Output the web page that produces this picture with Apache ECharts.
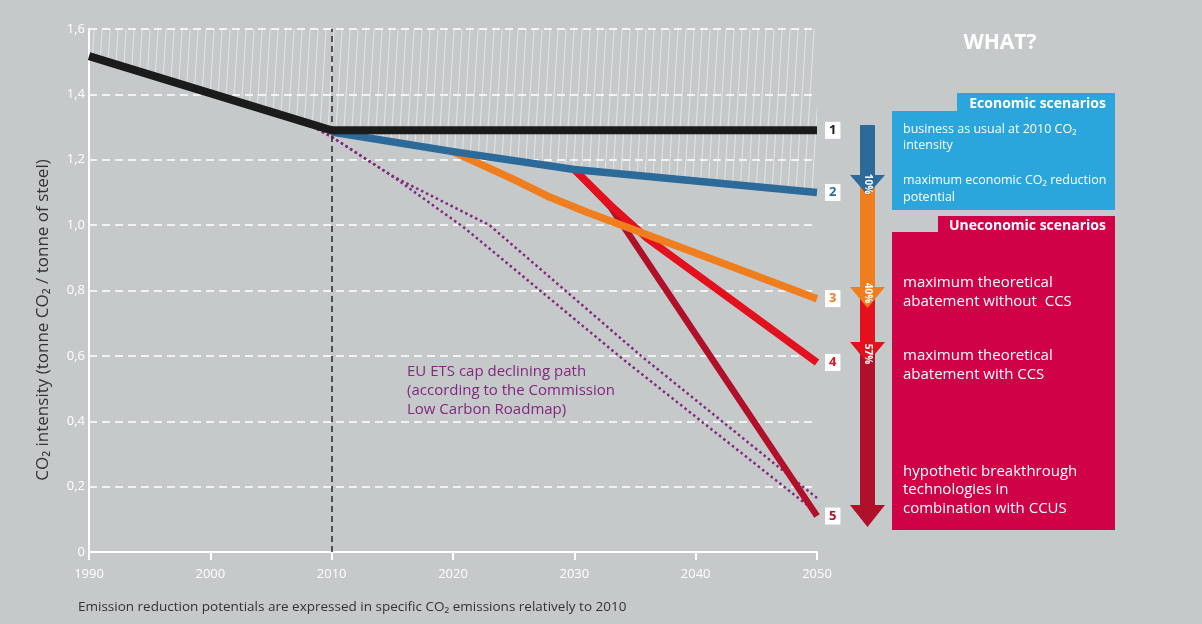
<!DOCTYPE html>
<html><head><meta charset="utf-8">
<script src="https://cdn.jsdelivr.net/npm/echarts@6/dist/echarts.min.js"></script>
<style>html,body{margin:0;padding:0;background:#c6c9ca;}#c{width:1202px;height:624px;}</style>
</head><body><div id="c"></div>
<script>
// ---- data ----
const xTicks = [1990, 2000, 2010, 2020, 2030, 2040, 2050];
const yTickStep = 0.2;
const bauYears = [1990, 2010, 2050];
const bauValues = [1.517, 1.29, 1.29];
const econYears = [2010, 2020, 2030, 2040, 2050];
const econValues = [1.285, 1.225, 1.17, 1.135, 1.10];
const noCcsYears = [2020, 2025, 2028, 2031, 2040, 2050];
const noCcsValues = [1.225, 1.14, 1.085, 1.04, 0.915, 0.775];
const ccsYears = [2030, 2033, 2036, 2043, 2050];
const ccsValues = [1.17, 1.06, 0.96, 0.77, 0.58];
const ccusYears = [2030, 2033, 2050];
const ccusValues = [1.17, 1.055, 0.11];
const etsAYears = [2008, 2010, 2015, 2021, 2034, 2050];
const etsAValues = [1.31, 1.27, 1.15, 0.99, 0.59, 0.12];
const etsBYears = [2008, 2010, 2015, 2023, 2035.5, 2050];
const etsBValues = [1.31, 1.27, 1.15, 1.0, 0.60, 0.165];
const scenarioLabels = ['1', '2', '3', '4', '5'];
const reductionLabels = ['10%', '40%', '57%'];

const zip = (xs, ys) => xs.map((x, i) => [x, ys[i]]);
// hatched area boundary: historic black line up to 2010, then the economic (blue) path
const hatchData = zip(bauYears.slice(0, 1), bauValues.slice(0, 1)).concat(zip(econYears, econValues));

const FONT = "'Open Sans', 'DejaVu Sans', sans-serif";
const C = { black: '#1b1b1b', blue: '#2c6a9a', orange: '#f07d1e', red: '#e3101d', dark: '#b0102a', purple: '#82287f' };

// hatch pattern tile
const tile = document.createElement('canvas');
tile.width = 8; tile.height = 128;
const tc = tile.getContext('2d');
tc.strokeStyle = 'rgba(255,255,255,0.5)';
tc.lineWidth = 1;
[-8, 0, 8].forEach(o => { tc.beginPath(); tc.moveTo(o, 128); tc.lineTo(o + 8, 0); tc.stroke(); });

const chart = echarts.init(document.getElementById('c'), null, { renderer: 'canvas' });

function lineSeries(name, data, color, width, label, z) {
  return {
    name, type: 'line', data, symbol: 'none', z,
    lineStyle: { color, width, join: 'round' },
    endLabel: label ? {
      show: true, formatter: label, distance: 8,
      backgroundColor: '#ffffff', color, fontWeight: 'bold', fontSize: 13,
      fontFamily: FONT, padding: [1, 4, 0, 4], lineHeight: 16
    } : { show: false },
    emphasis: { disabled: true }, silent: true
  };
}

const arrowX = 867.5, shaftHalf = 7.5, headHalf = 17.5;
function shaft(y1, y2, color) {
  return { type: 'rect', shape: { x: arrowX - shaftHalf, y: y1, width: shaftHalf * 2, height: y2 - y1 }, style: { fill: color }, z: 10 };
}
function head(base, tip, color) {
  return { type: 'polygon', shape: { points: [[arrowX - headHalf, base], [arrowX + headHalf, base], [arrowX, tip]] }, style: { fill: color }, z: 11 };
}
function vtext(t, y) {
  return { type: 'text', x: arrowX, y, rotation: -Math.PI / 2, z: 12,
    style: { text: t, fill: '#fff', font: 'bold 10px ' + FONT, textAlign: 'center', textVerticalAlign: 'middle' } };
}
function txt(t, x, y, size, color, weight, align) {
  return { type: 'text', x, y, z: 20,
    style: { text: t, fill: color, font: (weight || 'normal') + ' ' + size + 'px ' + FONT, textAlign: align || 'left', textVerticalAlign: 'middle' } };
}

const option = {
  animation: false,
  backgroundColor: '#c6c9ca',
  grid: { left: 89, right: 385, top: 29, bottom: 72 },
  xAxis: {
    type: 'value', min: xTicks[0], max: xTicks[xTicks.length - 1], interval: 10,
    axisLine: { show: true, lineStyle: { color: '#ffffff', width: 2 } },
    axisTick: { show: true, length: 8, lineStyle: { color: '#ffffff', width: 2 } },
    axisLabel: { color: '#ffffff', fontSize: 13, fontFamily: FONT, margin: 16, formatter: v => String(v) },
    splitLine: { show: false }
  },
  yAxis: {
    type: 'value', min: 0, max: 1.6, interval: yTickStep,
    axisLine: { show: true, lineStyle: { color: '#ffffff', width: 2 } },
    axisTick: { show: false },
    axisLabel: { color: '#ffffff', fontSize: 13, fontFamily: FONT, margin: 4,
      formatter: v => v === 0 ? '0' : v.toFixed(1).replace('.', ',') },
    splitLine: { show: true, lineStyle: { color: '#ffffff', width: 1.5, type: [8, 5] } }
  },
  series: [
    { type: 'line', data: hatchData, symbol: 'none', z: 1, silent: true,
      lineStyle: { width: 0, opacity: 0 },
      areaStyle: { origin: 'end', color: { image: tile, repeat: 'repeat' }, opacity: 1 },
      markLine: { silent: true, symbol: 'none', label: { show: false },
        lineStyle: { color: '#2a2a2a', width: 1.5, type: [6, 4] },
        data: [{ xAxis: 2010 }] } },
    { type: 'line', data: zip(etsAYears, etsAValues), symbol: 'none', z: 2, silent: true,
      lineStyle: { color: C.purple, width: 2.5, type: [2.5, 3] } },
    { type: 'line', data: zip(etsBYears, etsBValues), symbol: 'none', z: 2, silent: true,
      lineStyle: { color: C.purple, width: 2.5, type: [2.5, 3] } },
    lineSeries('ccus', zip(ccusYears, ccusValues), C.dark, 6.5, scenarioLabels[4], 3),
    lineSeries('ccs', zip(ccsYears, ccsValues), C.red, 7.5, scenarioLabels[3], 4),
    lineSeries('noccs', zip(noCcsYears, noCcsValues), C.orange, 7.5, scenarioLabels[2], 5),
    lineSeries('econ', zip(econYears, econValues), C.blue, 7.5, scenarioLabels[1], 6),
    lineSeries('bau', zip(bauYears, bauValues), C.black, 8, scenarioLabels[0], 7)
  ],
  graphic: [
    // y-axis title
    { type: 'text', x: 43, y: 320, rotation: Math.PI / 2, z: 20,
      style: { text: 'CO₂ intensity (tonne CO₂ / tonne of steel)', fill: '#333333', font: '17px ' + FONT, textAlign: 'center', textVerticalAlign: 'middle' } },
    // reduction arrow
    shaft(125, 180, C.blue), shaft(178, 292, C.orange), shaft(290, 347, C.red), shaft(345, 508, C.dark),
    head(505, 527, C.dark), head(342, 363, C.red), head(287, 308, C.orange), head(175, 195, C.blue),
    vtext(reductionLabels[0], 184), vtext(reductionLabels[1], 293), vtext(reductionLabels[2], 354),
    // right panel
    txt('WHAT?', 1000, 43, 21, '#ffffff', 'bold', 'center'),
    { type: 'rect', shape: { x: 957, y: 93, width: 158, height: 20 }, style: { fill: '#2aa6dc' }, z: 15 },
    { type: 'rect', shape: { x: 892, y: 111, width: 223, height: 99 }, style: { fill: '#2aa6dc' }, z: 15 },
    txt('Economic scenarios', 1106, 104, 14, '#ffffff', 'bold', 'right'),
    txt('business as usual at 2010 CO₂', 903, 129, 12.5, '#ffffff'),
    txt('intensity', 903, 145, 12.5, '#ffffff'),
    txt('maximum economic CO₂ reduction', 903, 180, 12.5, '#ffffff'),
    txt('potential', 903, 197, 12.5, '#ffffff'),
    { type: 'rect', shape: { x: 938, y: 216, width: 177, height: 20 }, style: { fill: '#cf0248' }, z: 15 },
    { type: 'rect', shape: { x: 892, y: 232, width: 223, height: 298 }, style: { fill: '#cf0248' }, z: 15 },
    txt('Uneconomic scenarios', 1106, 226, 14, '#ffffff', 'bold', 'right'),
    txt('maximum theoretical', 903, 283, 15, '#ffffff'),
    txt('abatement without  CCS', 903, 302, 15, '#ffffff'),
    txt('maximum theoretical', 903, 356, 15, '#ffffff'),
    txt('abatement with CCS', 903, 375, 15, '#ffffff'),
    txt('hypothetic breakthrough', 903, 472, 15, '#ffffff'),
    txt('technologies in', 903, 490, 15, '#ffffff'),
    txt('combination with CCUS', 903, 509, 15, '#ffffff'),
    // annotation
    txt('EU ETS cap declining path', 407, 372, 15, C.purple),
    txt('(according to the Commission', 407, 391, 15, C.purple),
    txt('Low Carbon Roadmap)', 407, 410, 15, C.purple),
    // footnote
    txt('Emission reduction potentials are expressed in specific CO₂ emissions relatively to 2010', 78, 607, 13.5, '#333333')
  ]
};
chart.setOption(option);
</script>
</body></html>
